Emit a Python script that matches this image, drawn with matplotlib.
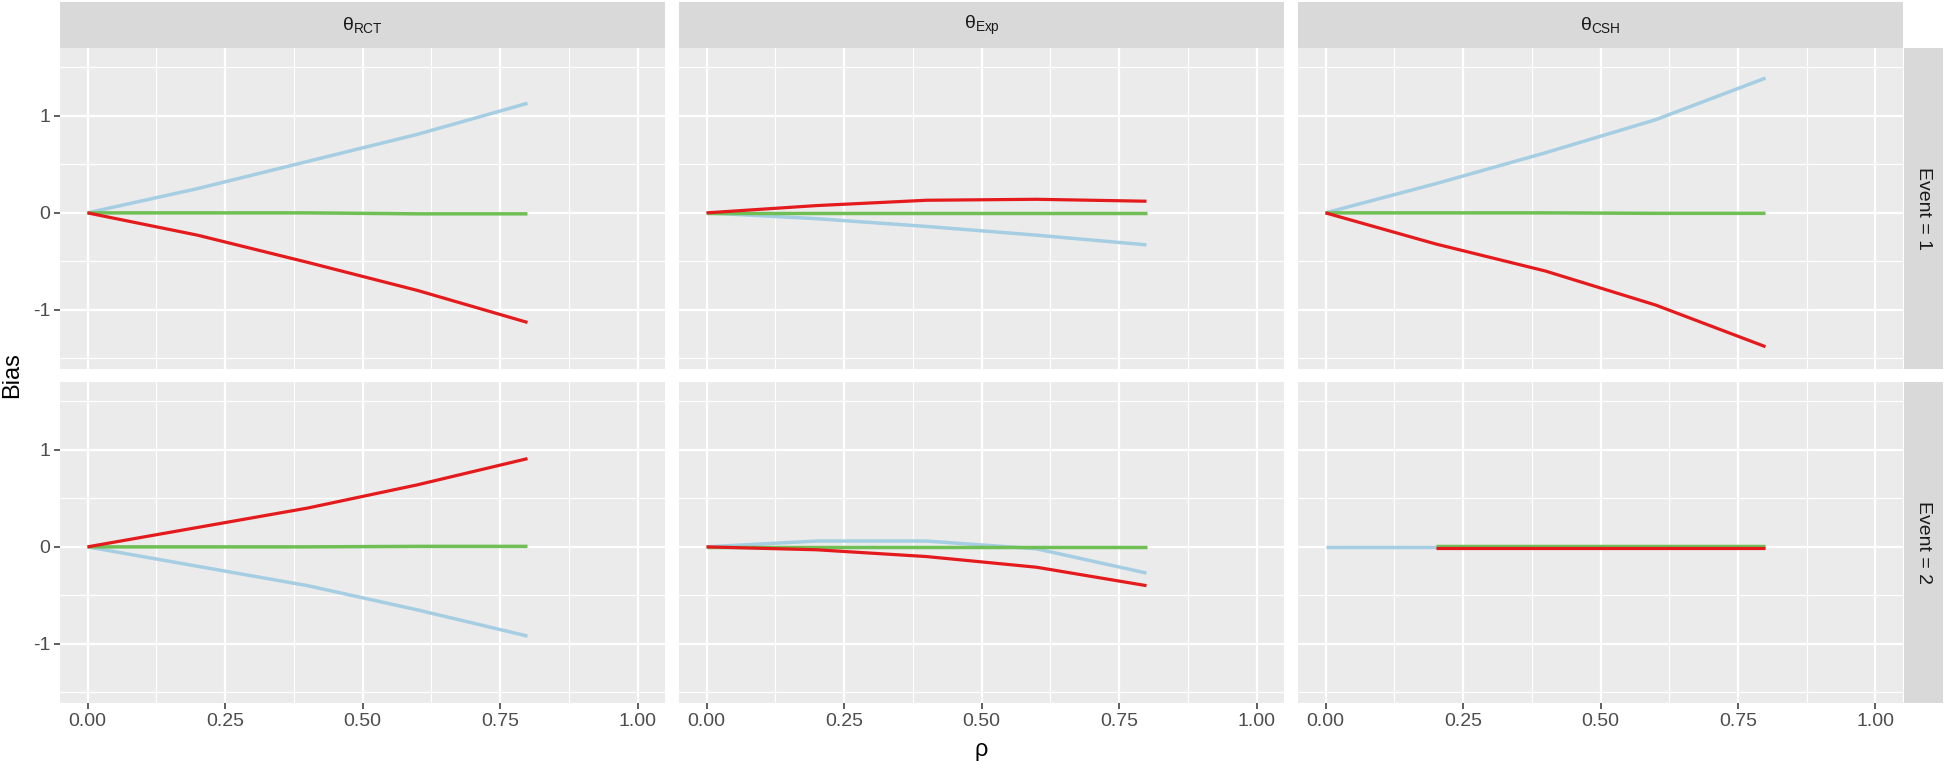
import matplotlib
matplotlib.use("Agg")
import matplotlib.pyplot as plt
import numpy as np

plt.rcParams['font.family'] = ['Liberation Sans', 'DejaVu Sans']
plt.rcParams['mathtext.default'] = 'regular'

rho = [0.0, 0.2, 0.4, 0.6, 0.8]

col_labels = [r'$\mathregular{θ_{RCT}}$', r'$\mathregular{θ_{Exp}}$', r'$\mathregular{θ_{CSH}}$']
row_labels = ['Event = 1', 'Event = 2']

# Bias per panel (row = event, col = estimand)
blue = [
    [[0, 0.25, 0.53, 0.81, 1.13], [0, -0.06, -0.14, -0.23, -0.33], [0, 0.30, 0.62, 0.96, 1.39]],
    [[0, -0.20, -0.40, -0.65, -0.92], [0, 0.06, 0.06, -0.02, -0.27], [0, 0, 0, 0, 0]],
]
green = [
    [[0, 0, 0, -0.01, -0.01], [0, 0, 0, 0, 0], [0, 0, 0, -0.005, -0.005]],
    [[0, 0, 0, 0.005, 0.005], [0, 0, 0, 0, 0], [np.nan, 0.01, 0.01, 0.01, 0.01]],
]
red = [
    [[0, -0.23, -0.51, -0.80, -1.13], [0, 0.075, 0.13, 0.14, 0.12], [0, -0.32, -0.60, -0.95, -1.38]],
    [[0, 0.20, 0.40, 0.64, 0.91], [0, -0.03, -0.10, -0.21, -0.40], [np.nan, -0.01, -0.01, -0.01, -0.01]],
]

c_blue = '#A6CEE3'
c_green = '#70BF55'
c_red = '#E41A1C'

W, H = 1946, 761
fig = plt.figure(figsize=(W / 100, H / 100), dpi=100)

lefts = [60, 679, 1298]
pw = 605
tops = [48, 382]
ph = 321

def box(x0, y0, w, h):
    return [x0 / W, 1 - (y0 + h) / H, w / W, h / H]

for r in range(2):
    for c in range(3):
        ax = fig.add_axes(box(lefts[c], tops[r], pw, ph))
        ax.set_facecolor('#EBEBEB')
        for s in ax.spines.values():
            s.set_visible(False)
        ax.set_xlim(-0.05, 1.05)
        ax.set_ylim(-1.61, 1.70)
        ax.set_xticks([0, 0.25, 0.5, 0.75, 1.0])
        ax.set_xticks([0.125, 0.375, 0.625, 0.875], minor=True)
        ax.set_yticks([-1, 0, 1])
        ax.set_yticks([-1.5, -0.5, 0.5, 1.5], minor=True)
        ax.grid(which='major', color='white', lw=1.6)
        ax.grid(which='minor', color='white', lw=0.8)
        ax.set_axisbelow(True)
        ax.tick_params(which='major', length=4, width=1.1, color='#333333',
                       labelsize=14, labelcolor='#4D4D4D', pad=3)
        ax.tick_params(which='minor', length=0)
        if r == 0:
            ax.set_xticklabels([])
            ax.tick_params(axis='x', length=0)
        else:
            ax.set_xticklabels(['0.00', '0.25', '0.50', '0.75', '1.00'])
        if c == 0:
            ax.set_yticklabels(['-1', '0', '1'])
        else:
            ax.set_yticklabels([])
            ax.tick_params(axis='y', length=0)
        ax.plot(rho, blue[r][c], color=c_blue, lw=2.5, solid_capstyle='butt')
        ax.plot(rho, green[r][c], color=c_green, lw=2.5, solid_capstyle='butt')
        ax.plot(rho, red[r][c], color=c_red, lw=2.3, solid_capstyle='butt')

# column strips
for c in range(3):
    sax = fig.add_axes(box(lefts[c], 2, pw, 46))
    sax.set_facecolor('#D9D9D9')
    sax.set_xticks([]); sax.set_yticks([])
    for s in sax.spines.values():
        s.set_visible(False)
    sax.text(0.5, 0.5, col_labels[c], ha='center', va='center', fontsize=14,
             color='#1A1A1A', transform=sax.transAxes)

# row strips
for r in range(2):
    sax = fig.add_axes(box(1904, tops[r], 39, ph))
    sax.set_facecolor('#D9D9D9')
    sax.set_xticks([]); sax.set_yticks([])
    for s in sax.spines.values():
        s.set_visible(False)
    sax.text(0.5, 0.5, row_labels[r], ha='center', va='center', fontsize=14,
             color='#1A1A1A', rotation=-90, transform=sax.transAxes)

fig.text(12 / W, 1 - 375 / H, 'Bias', rotation=90, ha='center', va='center', fontsize=17)
fig.text(981 / W, 1 - 750 / H, 'ρ', ha='center', va='center', fontsize=17)

plt.savefig('out.png', dpi=100)
